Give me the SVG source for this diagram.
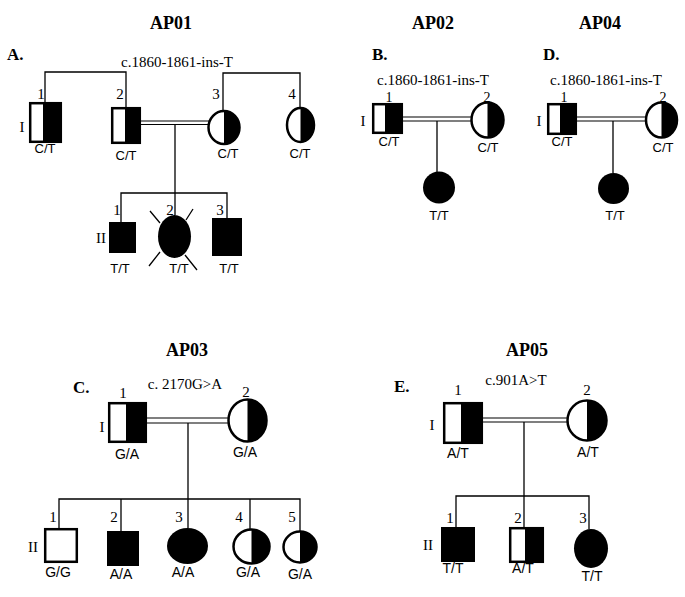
<svg xmlns="http://www.w3.org/2000/svg" width="685" height="597" viewBox="0 0 685 597">
<style>
.ln{stroke:#000;stroke-width:1.3;fill:none}
.dl{stroke:#000;stroke-width:1.2;fill:none}
.sh{stroke:#000;stroke-width:2.5;fill:#fff}
.t{font-family:"Liberation Serif","Times New Roman",serif;font-size:15px;text-anchor:middle;fill:#000}
.s{font-size:14px}
.ttl{font-family:"Liberation Serif","Times New Roman",serif;font-size:18px;font-weight:bold;text-anchor:middle;fill:#000}
.pl{font-family:"Liberation Serif","Times New Roman",serif;font-size:17px;font-weight:bold;fill:#000}
.g{font-family:"Liberation Sans",Arial,sans-serif;font-size:13px;text-anchor:middle;fill:#000}
.g2{font-size:14px}
</style>
<rect width="685" height="597" fill="#fff"/>

<!-- titles -->
<text class="ttl" x="171" y="29">AP01</text>
<text class="ttl" x="433" y="29">AP02</text>
<text class="ttl" x="600" y="29">AP04</text>
<text class="ttl" x="187" y="356">AP03</text>
<text class="ttl" x="527" y="356">AP05</text>

<text class="pl" x="7" y="60">A.</text>
<text class="pl" x="372" y="60">B.</text>
<text class="pl" x="543" y="60">D.</text>
<text class="pl" x="73" y="393">C.</text>
<text class="pl" x="394" y="392">E.</text>

<text class="t" x="177" y="67">c.1860-1861-ins-T</text>
<text class="t" x="433" y="85">c.1860-1861-ins-T</text>
<text class="t" x="606" y="85">c.1860-1861-ins-T</text>
<text class="t" x="185" y="389">c. 2170G&gt;A</text>
<text class="t" x="516" y="385">c.901A&gt;T</text>

<!-- generation labels -->
<text class="t" x="22" y="132">I</text>
<text class="t" x="101" y="243">II</text>
<text class="t" x="363" y="126">I</text>
<text class="t" x="539" y="126">I</text>
<text class="t" x="102" y="432">I</text>
<text class="t" x="33" y="552">II</text>
<text class="t" x="432" y="430">I</text>
<text class="t" x="428" y="550">II</text>

<g id="connectors">
  <!-- A -->
  <path class="ln" d="M45,102 V72 H126 V107"/>
  <path class="ln" d="M223,111 V73 H300 V108"/>
  <line class="dl" x1="141" y1="121" x2="209" y2="121"/>
  <line class="dl" x1="141" y1="124.5" x2="209" y2="124.5"/>
  <path class="ln" d="M175,124.5 V215"/>
  <path class="ln" d="M121,222 V193 H227 V218"/>
  <!-- B -->
  <line class="dl" x1="403" y1="117" x2="472" y2="117"/>
  <line class="dl" x1="403" y1="121" x2="472" y2="121"/>
  <path class="ln" d="M437,121 V172"/>
  <!-- D -->
  <line class="dl" x1="577" y1="117" x2="646" y2="117"/>
  <line class="dl" x1="577" y1="121" x2="646" y2="121"/>
  <path class="ln" d="M613,121 V173"/>
  <!-- C -->
  <line class="dl" x1="147" y1="418" x2="228" y2="418"/>
  <line class="dl" x1="147" y1="423" x2="228" y2="423"/>
  <path class="ln" d="M188,423 V528"/>
  <path class="ln" d="M59,532 V499 H300 V531"/>
  <path class="ln" d="M121,499 V531"/>
  <path class="ln" d="M250,499 V530"/>
  <!-- E -->
  <line class="dl" x1="483" y1="418" x2="567" y2="418"/>
  <line class="dl" x1="483" y1="422" x2="567" y2="422"/>
  <path class="ln" d="M524,422 V527"/>
  <path class="ln" d="M456,527 V496 H589 V529"/>
</g>

<!-- Panel A -->
<g id="A-I1">
  <rect class="sh" x="30.2" y="103.2" width="30.6" height="38.6"/>
  <rect x="43" y="103" width="18" height="39" fill="#000"/>
  <text class="t" x="41" y="99">1</text>
  <text class="g" x="45" y="153">C/T</text>
</g>
<g id="A-I2">
  <rect class="sh" x="112.2" y="108.2" width="27.6" height="34.6"/>
  <rect x="125" y="108" width="15" height="35" fill="#000"/>
  <text class="t" x="120" y="99">2</text>
  <text class="g" x="126" y="160">C/T</text>
</g>
<g id="A-I3">
  <ellipse class="sh" cx="224" cy="127.5" rx="15.5" ry="16.5"/>
  <path d="M224,111 A15.5,16.5 0 0 1 224,144 Z" fill="#000"/>
  <text class="t" x="216" y="99">3</text>
  <text class="g" x="228" y="158">C/T</text>
</g>
<g id="A-I4">
  <ellipse class="sh" cx="300.5" cy="125" rx="13.5" ry="17"/>
  <path d="M300.5,108 A13.5,17 0 0 1 300.5,142 Z" fill="#000"/>
  <text class="t" x="292" y="99">4</text>
  <text class="g" x="300" y="158">C/T</text>
</g>
<g id="A-II1">
  <rect x="109" y="222" width="27" height="31" fill="#000"/>
  <text class="t" x="117" y="215">1</text>
  <text class="g" x="120" y="273">T/T</text>
</g>
<g id="A-II2">
  <ellipse cx="174.5" cy="236.5" rx="16.5" ry="21.5" fill="#000"/>
  <path class="ln" d="M150,211 L160,223 M193,209 L186,220 M149,266 L160,252 M197,270 L185,255"/>
  <text class="t" x="170" y="215">2</text>
  <text class="g" x="179" y="273">T/T</text>
</g>
<g id="A-II3">
  <rect x="212" y="218" width="30" height="38" fill="#000"/>
  <text class="t" x="220" y="215">3</text>
  <text class="g" x="229" y="273">T/T</text>
</g>

<!-- Panel B -->
<g id="B-I1">
  <rect class="sh" x="373.2" y="104.2" width="28.6" height="28.6"/>
  <rect x="385" y="104" width="17" height="29" fill="#000"/>
  <text class="t s" x="389" y="102">1</text>
  <text class="g" x="389" y="146">C/T</text>
</g>
<g id="B-I2">
  <ellipse class="sh" cx="487.5" cy="120" rx="16" ry="17.5"/>
  <path d="M487.5,102.5 A16,17.5 0 0 1 487.5,137.5 Z" fill="#000"/>
  <text class="t s" x="487" y="102">2</text>
  <text class="g" x="488" y="152">C/T</text>
</g>
<g id="B-II1">
  <circle cx="439" cy="187.5" r="16" fill="#000"/>
  <text class="g" x="439" y="220">T/T</text>
</g>

<!-- Panel D -->
<g id="D-I1">
  <rect class="sh" x="548.2" y="104.2" width="27.6" height="29.6"/>
  <rect x="560" y="104" width="16" height="30" fill="#000"/>
  <text class="t s" x="564" y="102">1</text>
  <text class="g" x="562" y="146">C/T</text>
</g>
<g id="D-I2">
  <ellipse class="sh" cx="661.5" cy="120" rx="15.5" ry="17.5"/>
  <path d="M661.5,102.5 A15.5,17.5 0 0 1 661.5,137.5 Z" fill="#000"/>
  <text class="t s" x="663" y="102">2</text>
  <text class="g" x="663" y="152">C/T</text>
</g>
<g id="D-II1">
  <circle cx="613.5" cy="188.5" r="15.5" fill="#000"/>
  <text class="g" x="615" y="220">T/T</text>
</g>

<!-- Panel C -->
<g id="C-I1">
  <rect class="sh" x="109.2" y="403.2" width="36.6" height="38.6"/>
  <rect x="126" y="403" width="20" height="39" fill="#000"/>
  <text class="t" x="123" y="398">1</text>
  <text class="g g2" x="127" y="459">G/A</text>
</g>
<g id="C-I2">
  <ellipse class="sh" cx="247.5" cy="420.5" rx="19" ry="21"/>
  <path d="M247.5,399.5 A19,21 0 0 1 247.5,441.5 Z" fill="#000"/>
  <text class="t" x="246" y="397">2</text>
  <text class="g g2" x="245" y="457">G/A</text>
</g>
<g id="C-II1">
  <rect class="sh" x="45.2" y="529.2" width="31.6" height="32.6"/>
  <text class="t" x="53" y="522">1</text>
  <text class="g g2" x="58" y="577">G/G</text>
</g>
<g id="C-II2">
  <rect x="107" y="531" width="32" height="35" fill="#000"/>
  <text class="t" x="114" y="522">2</text>
  <text class="g g2" x="121" y="579">A/A</text>
</g>
<g id="C-II3">
  <ellipse cx="187.5" cy="546" rx="20.5" ry="18" fill="#000"/>
  <text class="t" x="179" y="522">3</text>
  <text class="g g2" x="183" y="577">A/A</text>
</g>
<g id="C-II4">
  <ellipse class="sh" cx="251.5" cy="546.5" rx="18" ry="17"/>
  <path d="M251.5,529.5 A18,17 0 0 1 251.5,563.5 Z" fill="#000"/>
  <text class="t" x="239" y="522">4</text>
  <text class="g g2" x="248" y="577">G/A</text>
</g>
<g id="C-II5">
  <ellipse class="sh" cx="300" cy="547" rx="16.5" ry="15.5"/>
  <path d="M300,531.5 A16.5,15.5 0 0 1 300,562.5 Z" fill="#000"/>
  <text class="t" x="292" y="522">5</text>
  <text class="g g2" x="300" y="579">G/A</text>
</g>

<!-- Panel E -->
<g id="E-I1">
  <rect class="sh" x="444.2" y="403.2" width="37.6" height="39.6"/>
  <rect x="461" y="403" width="21" height="40" fill="#000"/>
  <text class="t" x="458" y="395">1</text>
  <text class="g g2" x="458" y="458">A/T</text>
</g>
<g id="E-I2">
  <ellipse class="sh" cx="587" cy="420.5" rx="19.5" ry="20"/>
  <path d="M587,400.5 A19.5,20 0 0 1 587,440.5 Z" fill="#000"/>
  <text class="t" x="587" y="395">2</text>
  <text class="g g2" x="588" y="457">A/T</text>
</g>
<g id="E-II1">
  <rect x="441" y="527" width="34" height="35" fill="#000"/>
  <text class="t" x="450" y="523">1</text>
  <text class="g g2" x="453" y="573">T/T</text>
</g>
<g id="E-II2">
  <rect class="sh" x="510.2" y="528.2" width="32.6" height="33.6"/>
  <rect x="525" y="528" width="18" height="34" fill="#000"/>
  <text class="t" x="518" y="523">2</text>
  <text class="g g2" x="523" y="573">A/T</text>
</g>
<g id="E-II3">
  <ellipse cx="591" cy="548.5" rx="17" ry="19.5" fill="#000"/>
  <text class="t" x="583" y="523">3</text>
  <text class="g g2" x="592" y="581">T/T</text>
</g>
</svg>
